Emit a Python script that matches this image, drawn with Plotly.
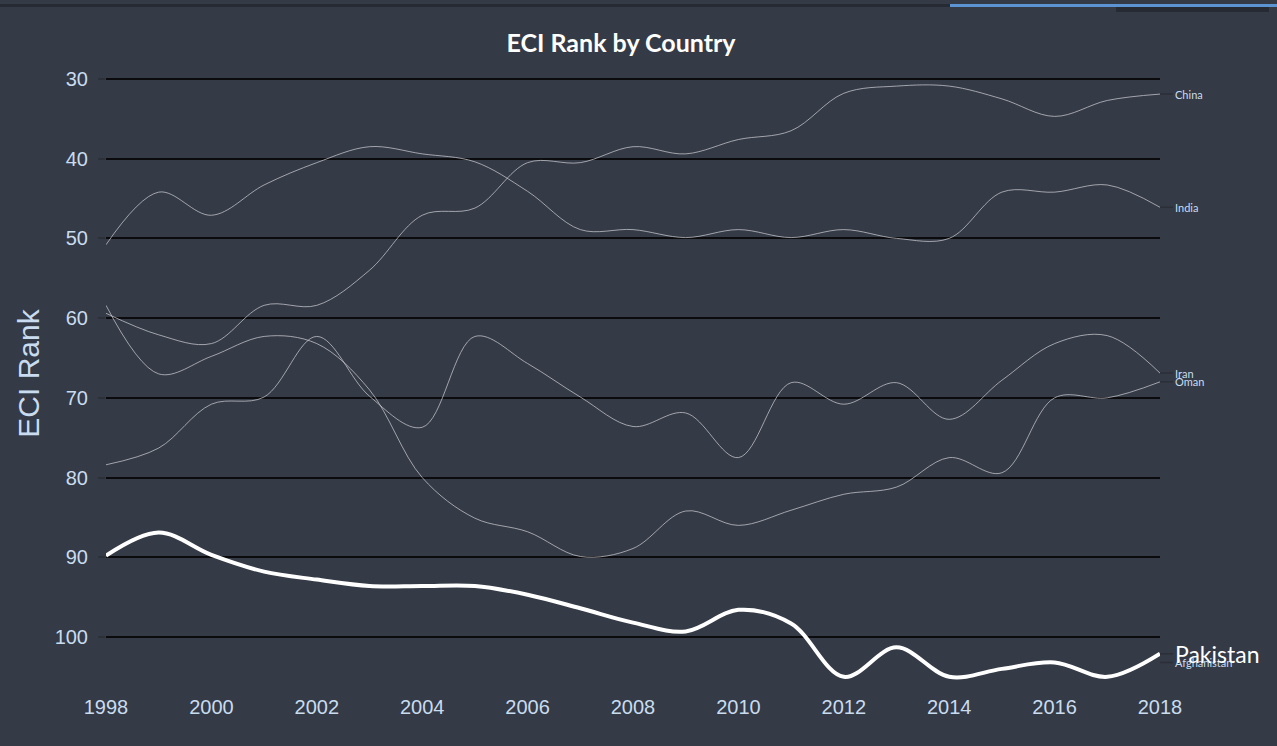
import plotly.graph_objects as go

years = list(range(1998, 2019))

china = [59.4, 62.1, 63.2, 58.4, 58.4, 54.0, 47.1, 46.2, 40.5, 40.5, 38.5,
         39.4, 37.6, 36.5, 31.8, 30.9, 30.9, 32.5, 34.7, 32.7, 31.9]
india = [50.8, 44.2, 47.1, 43.3, 40.5, 38.5, 39.4, 40.4, 44.1, 48.9, 48.9,
         49.9, 48.9, 49.9, 48.9, 50.0, 50.0, 44.2, 44.2, 43.3, 46.1]
iran = [78.4, 76.3, 70.8, 69.9, 62.3, 69.8, 73.7, 62.3, 65.7, 69.9, 73.6,
        71.9, 77.5, 68.1, 70.8, 68.1, 72.7, 67.8, 63.2, 62.2, 66.9]
oman = [58.4, 67.0, 64.8, 62.3, 63.2, 69.0, 80.0, 85.1, 86.8, 89.9, 88.9,
        84.2, 86.0, 84.1, 82.1, 81.2, 77.5, 79.4, 70.0, 70.0, 68.0]
pakistan = [89.8, 86.9, 89.7, 91.8, 92.8, 93.6, 93.6, 93.6, 94.7, 96.4, 98.2,
            99.3, 96.6, 98.3, 105.0, 101.3, 105.0, 104.0, 103.2, 105.0, 102.1]
afghanistan_years = [2018]
afghanistan = [103.2]

BG = '#343a46'
TXT = '#c9dcef'

fig = go.Figure()

thin = dict(color='rgba(205,205,210,0.72)', width=1, shape='spline')
for name, vals in [('China', china), ('India', india), ('Iran', iran), ('Oman', oman)]:
    fig.add_trace(go.Scatter(x=years, y=vals, mode='lines', name=name, line=thin, showlegend=False))
fig.add_trace(go.Scatter(x=afghanistan_years, y=afghanistan, mode='lines', name='Afghanistan',
                         line=thin, showlegend=False))
fig.add_trace(go.Scatter(x=years, y=pakistan, mode='lines', name='Pakistan',
                         line=dict(color='white', width=4, shape='spline'), showlegend=False))

# end-of-line labels
labels = [('China', years[-1], china[-1], 11, TXT),
          ('India', years[-1], india[-1], 11, TXT),
          ('Iran', years[-1], iran[-1], 11, TXT),
          ('Oman', years[-1], oman[-1], 11, TXT),
          ('Afghanistan', afghanistan_years[-1], afghanistan[-1], 11, TXT),
          ('Pakistan', years[-1], pakistan[-1], 23, '#ffffff')]
for txt, x, y, size, col in labels:
    fig.add_annotation(x=x, y=y, text=txt, showarrow=True, arrowhead=0, arrowwidth=1.5,
                       arrowcolor='#2a2f38', ax=13, ay=0, xanchor='left', standoff=0,
                       font=dict(family='Lato, Open Sans, sans-serif', size=size, color=col))

# page chrome strip at top of the screenshot
fig.add_shape(type='rect', xref='paper', yref='paper', x0=-0.11, x1=1.12, y0=1.0827, y1=1.0874,
              line_width=0, fillcolor='#262a32')
fig.add_shape(type='rect', xref='paper', yref='paper', x0=(950 - 106) / 1054, x1=1.12,
              y0=1.0827, y1=1.0874, line_width=0, fillcolor='#5b93d3')
fig.add_shape(type='rect', xref='paper', yref='paper', x0=(1116 - 106) / 1054, x1=(1269 - 106) / 1054,
              y0=(688 - 12) / 629, y1=(688 - 7) / 629, line_width=0, fillcolor='#262a32')

fig.update_xaxes(range=[1998, 2018], showgrid=False, zeroline=False, showline=False,
                 tickvals=list(range(1998, 2019, 2)), ticks='', ticklabelstandoff=5,
                 tickfont=dict(family='Liberation Sans, Arial, sans-serif', size=20, color=TXT))
fig.update_yaxes(range=[106.4, 27.5], showgrid=True, gridcolor='#0b0b0e', gridwidth=2,
                 zeroline=False, showline=False, tickvals=list(range(30, 101, 10)),
                 ticks='outside', ticklen=7, tickcolor='#2b3039', tickwidth=2, ticklabelstandoff=6,
                 tickfont=dict(family='Liberation Sans, Arial, sans-serif', size=20, color=TXT),
                 title=dict(text='ECI Rank', standoff=6,
                            font=dict(family='Liberation Sans, Arial, sans-serif', size=30, color=TXT)))
fig.update_layout(
    width=1277, height=746,
    paper_bgcolor=BG, plot_bgcolor=BG,
    margin=dict(l=106, r=117, t=59, b=58),
    title=dict(text='<b>ECI Rank by Country</b>', x=(621 - 106) / 1054, xref='paper', xanchor='center',
               y=1 - 43 / 746, yanchor='middle',
               font=dict(family='Lato, Open Sans, sans-serif', size=25, color='white')),
)

fig.write_html("out.html", config={'displayModeBar': False},
               post_script="document.body.style.margin='0';document.body.style.background='#343a46';")
